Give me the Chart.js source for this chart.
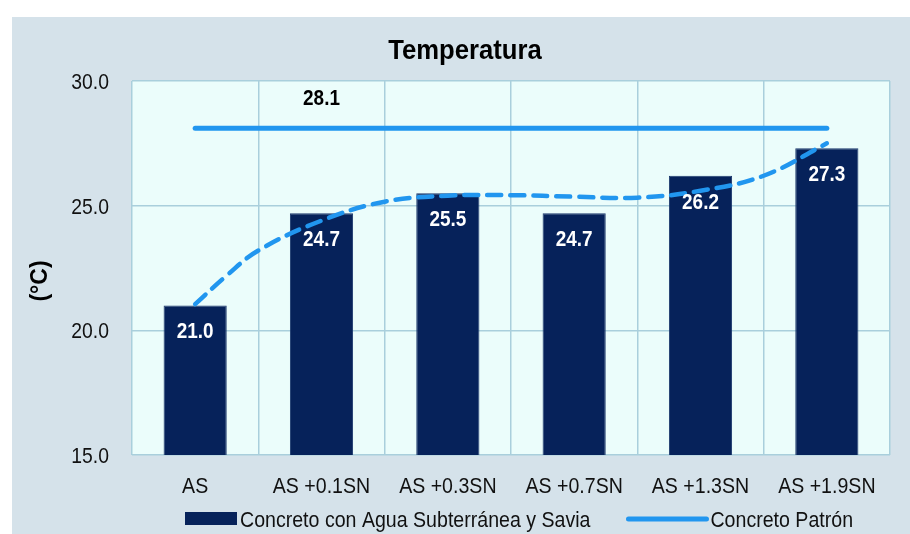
<!DOCTYPE html>
<html>
<head>
<meta charset="utf-8">
<script src="https://cdn.jsdelivr.net/npm/chart.js@4/dist/chart.umd.min.js"></script>
<style>
  html, body { margin: 0; padding: 0; background: #ffffff; }
  #wrap { position: absolute; left: 12px; top: 17px; width: 898px; height: 517px; background: #d5e2ea; }
  canvas { display: block; }
</style>
</head>
<body>
<div id="wrap"><canvas id="c" width="898" height="517"></canvas></div>
<script>
// Mixes tested
const categories = ['AS', 'AS +0.1SN', 'AS +0.3SN', 'AS +0.7SN', 'AS +1.3SN', 'AS +1.9SN'];
// Temperature of concrete made with groundwater and sap (°C)
const mixTemps = [21.0, 24.7, 25.5, 24.7, 26.2, 27.3];
// Reference concrete temperature (°C)
const referenceTemps = [28.1, 28.1, 28.1, 28.1, 28.1, 28.1];
// Trend curve through the mixes (position along the category axis, °C)
const trendPos = [0, 0.25, 0.5, 1, 1.5, 2, 2.5, 3, 3.5, 4, 4.5, 5];
const trendTemps = [21.05, 22.2, 23.2, 24.4, 25.16, 25.4, 25.42, 25.36, 25.32, 25.6, 26.2, 27.5];
// Value axis ticks
const yTicks = [15, 20, 25, 30];

const chartTitle = 'Temperatura';
const yTitle = '(°C)';
const seriesNames = ['Concreto con Agua Subterránea y Savia', 'Concreto Patrón'];

const NAVY = '#06225a';
const BLUE = '#2196ef';
const FONT = '"Liberation Sans", Arial, sans-serif';

// Condensed text helper (narrow face look)
function drawText(ctx, s, x, y, o) {
  ctx.save();
  ctx.font = (o.bold ? 'bold ' : '') + o.size + 'px ' + FONT;
  ctx.fillStyle = o.color || '#111111';
  ctx.textAlign = o.align || 'center';
  ctx.textBaseline = o.baseline || 'alphabetic';
  ctx.translate(x, y);
  if (o.rotate) ctx.rotate(o.rotate);
  ctx.scale(o.sx || 1, 1);
  ctx.fillText(s, 0, 0);
  const w = ctx.measureText(s).width * (o.sx || 1);
  ctx.restore();
  return w;
}

// Plot area background
const plotBg = {
  id: 'plotBg',
  beforeDraw(chart) {
    const { ctx, chartArea: a } = chart;
    ctx.save();
    ctx.fillStyle = '#ebfdfb';
    ctx.fillRect(a.left, a.top, a.right - a.left, a.bottom - a.top);
    ctx.restore();
  }
};

// Title, axis labels, value labels and legend
const texts = {
  id: 'texts',
  afterDatasetsDraw(chart) {
    const { ctx } = chart;
    // value labels inside the bars
    chart.getDatasetMeta(0).data.forEach((el, i) => {
      drawText(ctx, mixTemps[i].toFixed(1), el.x, el.y + 33, { size: 22, bold: true, color: '#ffffff', sx: 0.86 });
    });
    // value label above the reference line
    const p = chart.getDatasetMeta(1).data[1];
    drawText(ctx, referenceTemps[1].toFixed(1), p.x, p.y - 23, { size: 22, bold: true, color: '#000000', sx: 0.86 });
  },
  afterDraw(chart) {
    const { ctx, scales, chartArea: a } = chart;
    const x = scales.x, y = scales.y;

    drawText(ctx, chartTitle, 453, 42, { size: 27, bold: true, color: '#000000', sx: 0.95 });

    yTicks.forEach(v => {
      drawText(ctx, v.toFixed(1), 97, y.getPixelForValue(v) + 8, { size: 22, align: 'right', sx: 0.88 });
    });
    categories.forEach((c, i) => {
      drawText(ctx, c, x.getPixelForValue(i), a.bottom + 38, { size: 22, sx: 0.89 });
    });
    drawText(ctx, yTitle, 29, 264, { size: 23, bold: true, color: '#000000', rotate: -Math.PI / 2, baseline: 'middle', sx: 1 });

    // legend
    const ly = 502;
    let lx = 173;
    ctx.save();
    ctx.fillStyle = NAVY;
    ctx.fillRect(lx, ly - 7, 52, 13);
    ctx.restore();
    lx += 55;
    lx += drawText(ctx, seriesNames[0], lx, ly + 8, { size: 22, align: 'left', sx: 0.89 }) + 35;
    ctx.save();
    ctx.strokeStyle = BLUE;
    ctx.lineWidth = 5;
    ctx.lineCap = 'round';
    ctx.beginPath();
    ctx.moveTo(lx + 3, ly);
    ctx.lineTo(lx + 81, ly);
    ctx.stroke();
    ctx.restore();
    lx += 85;
    drawText(ctx, seriesNames[1], lx, ly + 8, { size: 22, align: 'left', sx: 0.89 });
  }
};

new Chart(document.getElementById('c'), {
  type: 'bar',
  data: {
    labels: categories,
    datasets: [
      {
        label: seriesNames[0],
        data: mixTemps,
        backgroundColor: NAVY,
        borderColor: '#1d3a6e',
        borderWidth: 1,
        barPercentage: 0.5,
        categoryPercentage: 1.0,
        grouped: false,
        order: 3
      },
      {
        type: 'line',
        label: seriesNames[1],
        data: referenceTemps,
        borderColor: BLUE,
        borderWidth: 5,
        borderCapStyle: 'round',
        pointRadius: 0,
        fill: false,
        grouped: false,
        order: 1
      },
      {
        type: 'line',
        label: 'Tendencia',
        xAxisID: 'xt',
        data: trendPos.map((p, i) => ({ x: p, y: trendTemps[i] })),
        borderColor: BLUE,
        borderWidth: 4.5,
        borderDash: [14, 9],
        borderCapStyle: 'round',
        tension: 0.4,
        pointRadius: 0,
        fill: false,
        grouped: false,
        order: 2
      }
    ]
  },
  options: {
    responsive: false,
    animation: false,
    events: [],
    layout: { padding: { left: 120, right: 20, top: 64, bottom: 79 } },
    plugins: {
      legend: { display: false },
      tooltip: { enabled: false },
      title: { display: false }
    },
    scales: {
      x: {
        afterFit(scale) { scale.height = 0; },
        grid: { color: '#a9cfdc', lineWidth: 1.5, drawTicks: false, offset: true },
        border: { display: false },
        ticks: { display: false }
      },
      xt: {
        type: 'linear',
        display: false,
        offset: false,
        min: -0.5,
        max: 5.5
      },
      y: {
        min: 15,
        max: 30,
        afterFit(scale) { scale.width = 0; },
        afterBuildTicks(scale) { scale.ticks = yTicks.map(v => ({ value: v })); },
        grid: { color: '#a9cfdc', lineWidth: 1.5, drawTicks: false },
        border: { display: false },
        ticks: { display: false }
      }
    }
  },
  plugins: [plotBg, texts]
});
</script>
</body>
</html>
